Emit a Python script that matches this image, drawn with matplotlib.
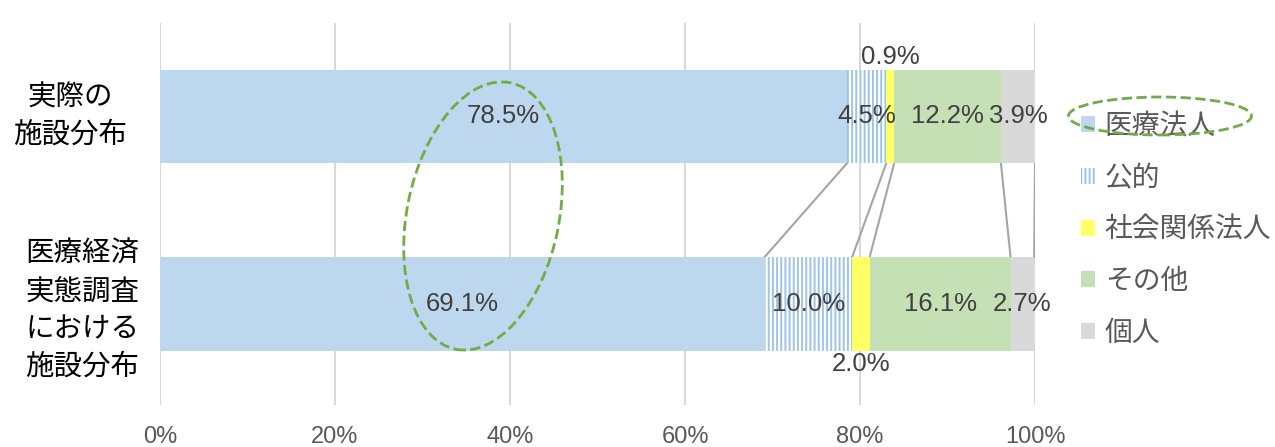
import numpy as np
import matplotlib
matplotlib.use("Agg")
import matplotlib.pyplot as plt
from matplotlib.patches import Ellipse

plt.rcParams['font.family'] = ['Noto Sans CJK JP', 'DejaVu Sans']
plt.rcParams['hatch.linewidth'] = 1.4

# 施設の開設者別の構成比 (%)
groups = ['実際の\n施設分布', '医療経済\n実態調査\nにおける\n施設分布']
kinds = ['医療法人', '公的', '社会関係法人', 'その他', '個人']
actual = [78.5, 4.5, 0.9, 12.2, 3.9]
survey = [69.1, 10.0, 2.0, 16.1, 2.7]

colors = ['#BDD7EE', 'white', '#FFFF66', '#C5E0B4', '#D9D9D9']
hatches = [None, '||||', None, None, None]
edges = ['#BDD7EE', '#9DC3E6', '#FFFF66', '#C5E0B4', '#D9D9D9']

fig = plt.figure(figsize=(12.75, 4.47), dpi=100)
ax = fig.add_axes([0.1255, 0.094, 0.6863, 0.855])

ypos = [1, 0]
h = 0.5
rows = [actual, survey]
for y, vals in zip(ypos, rows):
    left = 0
    for i, v in enumerate(vals):
        ax.barh(y, v, left=left, height=h, color=colors[i], edgecolor=edges[i],
                hatch=hatches[i], linewidth=0, label=kinds[i] if y == 1 else None,
                zorder=3)
        left += v

# 系列線
cum_a = np.cumsum(actual)
cum_s = np.cumsum(survey)
for a, s in zip(cum_a, cum_s):
    ax.plot([a, s], [1 - h / 2, h / 2], color='#A5A5A5', lw=1.5, zorder=2)

# データラベル
lab_kw = dict(fontsize=18.5, color='#404040', ha='center', va='center', zorder=5,
              family=['Liberation Sans', 'DejaVu Sans'])
for y, vals in zip(ypos, rows):
    left = 0
    for i, v in enumerate(vals):
        c = left + v / 2
        txt = f'{v:.1f}%'
        if i == 2:
            if y == 1:
                ax.text(c, y + h / 2 + 0.065, txt, **lab_kw)
            else:
                ax.text(c, y - h / 2 - 0.07, txt, **lab_kw)
        else:
            ax.text(c, y, txt, **lab_kw)
        left += v

ax.set_xlim(0, 100)
ax.set_ylim(-0.54, 1.5)
ax.set_xticks(np.arange(0, 101, 20))
ax.set_xticklabels([f'{t}%' for t in range(0, 101, 20)],
                   family=['Liberation Sans', 'DejaVu Sans'])
ax.tick_params(axis='x', length=0, labelsize=17, labelcolor='#595959', pad=15)
ax.set_yticks([])
ax.grid(axis='x', color='#D9D9D9', lw=1.5, zorder=0)
for s in ax.spines.values():
    s.set_visible(False)

ax.text(-0.103, 1, groups[0], transform=ax.get_yaxis_transform(), ha='center',
        va='center', fontsize=20.5, linespacing=1.3, color='black')
ax.text(-0.089, -0.034, groups[1], transform=ax.get_yaxis_transform(), ha='center',
        va='center', fontsize=20.5, linespacing=1.32, color='black')

leg = ax.legend(loc='upper left', bbox_to_anchor=(1.024, 0.834), frameon=False,
                fontsize=20, handlelength=0.52, handleheight=0.52,
                handletextpad=0.33, labelspacing=0.78)
for t in leg.get_texts():
    t.set_color('#595959')

# 強調用の破線の楕円
fig.add_artist(Ellipse((4.83, 2.31), 1.52, 2.72, angle=-11.6,
                       transform=fig.dpi_scale_trans, fill=False,
                       edgecolor='#70AD47', ls='--', lw=2))
fig.add_artist(Ellipse((11.60, 3.31), 1.83, 0.38,
                       transform=fig.dpi_scale_trans, fill=False,
                       edgecolor='#70AD47', ls='--', lw=2))

fig.savefig('out.png', dpi=100)
